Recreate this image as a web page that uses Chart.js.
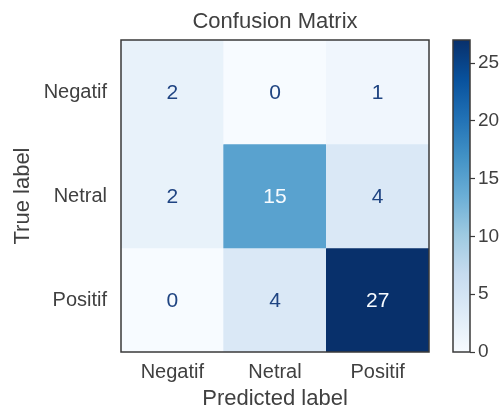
<!DOCTYPE html>
<html>
<head>
<meta charset="utf-8">
<script src="https://cdn.jsdelivr.net/npm/chart.js@4.4.0/dist/chart.umd.min.js"></script>
<style>
  html, body { margin: 0; padding: 0; background: #fff; }
  #wrap { position: relative; width: 504px; height: 412px; }
  #cm { position: absolute; left: 0; top: 0; }
  #cb { position: absolute; left: 440px; top: 0; }
</style>
</head>
<body>
<div id="wrap">
  <canvas id="cm" width="504" height="412"></canvas>
  <canvas id="cb" width="64" height="412"></canvas>
</div>
<script>
// confusion matrix data
var predictedLabels = ["Negatif", "Netral", "Positif"];
var trueLabels = ["Negatif", "Netral", "Positif"];
var rowNegatif = [2, 0, 1];
var rowNetral = [2, 15, 4];
var rowPositif = [0, 4, 27];
var colorbarTicks = [0, 5, 10, 15, 20, 25];

var matrix = [rowNegatif, rowNetral, rowPositif];
var vmax = Math.max.apply(null, matrix.map(function(r) { return Math.max.apply(null, r); }));
var vmin = 0;

// matplotlib Blues
var blues = ["#f7fbff", "#deebf7", "#c6dbef", "#9ecae1", "#6baed6", "#4292c6", "#2171b5", "#08519c", "#08306b"];

function hexRgb(h) {
    return [parseInt(h.substr(1, 2), 16), parseInt(h.substr(3, 2), 16), parseInt(h.substr(5, 2), 16)];
}
function bluesAt(t) {
    t = Math.max(0, Math.min(1, t));
    var p = t * (blues.length - 1);
    var i = Math.min(Math.floor(p), blues.length - 2);
    var f = p - i;
    var a = hexRgb(blues[i]), b = hexRgb(blues[i + 1]);
    var c = a.map(function(v, k) { return Math.round(v + (b[k] - v) * f); });
    return "rgb(" + c.join(",") + ")";
}

var fontFam = "'Liberation Sans', Arial, Helvetica, sans-serif";
var textCol = "#404040";

var datasets = matrix.map(function(row, r) {
    return {
        label: trueLabels[r],
        data: row.map(function() { return [r, r + 1]; }),
        values: row,
        backgroundColor: row.map(function(v) { return bluesAt((v - vmin) / (vmax - vmin)); }),
        borderWidth: 0,
        barPercentage: 1,
        categoryPercentage: 1,
        grouped: false
    };
});

var frame = {
    id: "frame",
    afterDraw: function(chart) {
        var a = chart.chartArea, c = chart.ctx;
        c.save();
        c.strokeStyle = "#3a3a3a";
        c.lineWidth = 1.5;
        c.strokeRect(a.left, a.top, a.right - a.left, a.bottom - a.top);
        c.restore();
    }
};

var cellText = {
    id: "cellText",
    afterDatasetsDraw: function(chart) {
        var c = chart.ctx;
        var thresh = (vmax + vmin) / 2;
        c.save();
        c.font = "21px " + fontFam;
        c.textAlign = "center";
        c.textBaseline = "middle";
        chart.data.datasets.forEach(function(ds, di) {
            var meta = chart.getDatasetMeta(di);
            meta.data.forEach(function(el, i) {
                var v = ds.values[i];
                var p = el.getCenterPoint();
                c.fillStyle = v > thresh ? "#f7fbff" : "#1f4482";
                c.fillText(String(v), p.x, p.y + 1);
            });
        });
        c.restore();
    }
};

new Chart(document.getElementById("cm"), {
    type: "bar",
    data: { labels: predictedLabels, datasets: datasets },
    options: {
        responsive: false,
        animation: false,
        layout: { padding: { left: 0, right: 75, top: 0, bottom: 0 } },
        plugins: {
            legend: { display: false },
            tooltip: { enabled: false },
            title: {
                display: true,
                fullSize: false,
                text: "Confusion Matrix",
                color: textCol,
                font: { family: fontFam, size: 22, weight: "normal" },
                padding: { top: 9, bottom: 4.6 }
            }
        },
        scales: {
            x: {
                grid: { display: false, drawTicks: false },
                border: { display: false },
                ticks: { color: textCol, font: { family: fontFam, size: 20 }, padding: 8, maxRotation: 0 },
                title: {
                    display: true,
                    text: "Predicted label",
                    color: textCol,
                    font: { family: fontFam, size: 22 },
                    padding: { top: 0, bottom: 0 }
                },
                afterFit: function(s) { s.height = 60; }
            },
            y: {
                type: "linear",
                min: 0,
                max: 3,
                reverse: true,
                grid: { display: false, drawTicks: false },
                border: { display: false },
                afterBuildTicks: function(s) {
                    s.ticks = [{ value: 0.5 }, { value: 1.5 }, { value: 2.5 }];
                },
                ticks: {
                    color: textCol,
                    font: { family: fontFam, size: 20 },
                    padding: 14,
                    callback: function(v) { return trueLabels[Math.floor(v)]; }
                },
                title: {
                    display: true,
                    text: "True label",
                    color: textCol,
                    font: { family: fontFam, size: 22 },
                    padding: { top: 10, bottom: 4 }
                },
                afterFit: function(s) { s.width = 121; }
            }
        }
    },
    plugins: [frame, cellText]
});

// colorbar
new Chart(document.getElementById("cb"), {
    type: "bar",
    data: {
        labels: [""],
        datasets: [{
            data: [[vmin, vmax]],
            borderWidth: 0,
            barPercentage: 1,
            categoryPercentage: 1,
            backgroundColor: function(ctx) {
                var a = ctx.chart.chartArea;
                if (!a) return blues[4];
                var g = ctx.chart.ctx.createLinearGradient(0, a.bottom, 0, a.top);
                blues.forEach(function(col, i) { g.addColorStop(i / (blues.length - 1), col); });
                return g;
            }
        }]
    },
    options: {
        responsive: false,
        animation: false,
        layout: { padding: { left: 13, right: 0, top: 40, bottom: 60 } },
        plugins: { legend: { display: false }, tooltip: { enabled: false } },
        scales: {
            x: { display: false },
            y: {
                position: "right",
                min: vmin,
                max: vmax,
                grid: { drawOnChartArea: false, drawTicks: true, tickLength: 5, tickColor: "#3a3a3a", tickWidth: 1.2 },
                border: { display: false },
                afterBuildTicks: function(s) {
                    s.ticks = colorbarTicks.map(function(v) { return { value: v }; });
                },
                ticks: { color: textCol, font: { family: fontFam, size: 19 }, padding: 3 },
                afterFit: function(s) { s.width = 34; }
            }
        }
    },
    plugins: [frame]
});
</script>
</body>
</html>
